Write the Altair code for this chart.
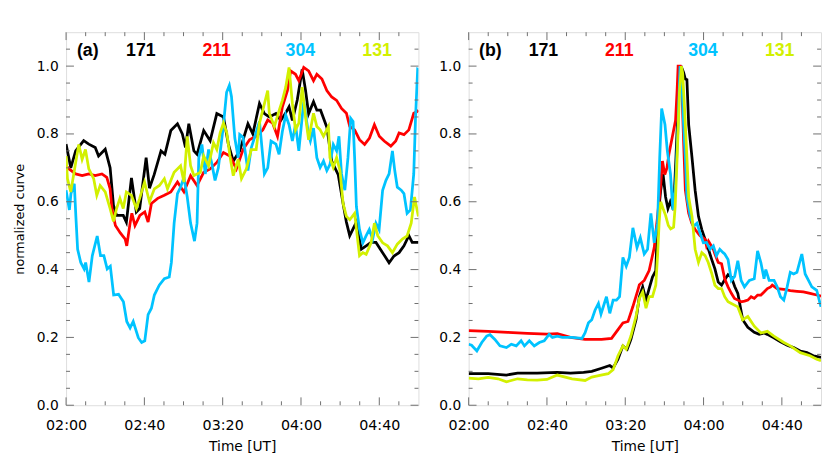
import altair as alt
import pandas as pd

# ---------------- data (time in minutes since 00:00 UT, normalized value) ----------------
a171 = [(120,.77),(122.4,.70),(124.9,.75),(129,.78),(131.6,.77),(134.9,.76),(136.6,.735),(140,.755),
        (142.5,.70),(144.2,.59),(145.8,.56),(149.2,.56),(150.8,.54),(153.4,.67),(155.9,.57),(157.6,.58),
        (160.9,.73),(162.6,.64),(165,.68),(168.5,.75),(170.5,.74),(173.5,.81),(176.9,.83),(179.4,.80),
        (181,.76),(182.7,.83),(185.3,.75),(186.9,.74),(190.3,.81),(193.6,.78),(197,.86),(200.4,.85),
        (202.9,.77),(205.4,.72),(208.7,.75),(212.9,.83),(215.4,.80),(218.8,.89),(221.3,.86),(223.8,.85),
        (227.2,.86),(229.7,.84),(232,.86),(233.9,.88),(235.6,.84),(238.1,.90),(240.6,.99),(242.3,.93),
        (243.9,.86),(246.4,.895),(248.1,.87),(250,.87),(253.2,.82),(255.7,.72),(259,.68),(261.5,.595),
        (263.2,.54),(264.9,.50),(266.6,.52),(268.3,.54),(270.8,.46),(273.3,.47),(275.8,.48),(278.3,.48),
        (281.7,.45),(285,.42),(287.5,.44),(290.1,.45),(292.6,.47),(295.1,.50),(296.8,.48),(300,.48)]

a211 = [(120,.706),(121.5,.697),(124.9,.682),(128.2,.677),(131.6,.682),(134.9,.677),(138.3,.682),
        (140.8,.672),(142.5,.638),(143.5,.576),(145.2,.53),(147.7,.508),(150.2,.49),(151,.47),(152.7,.537),
        (153.6,.566),(155.2,.53),(157.7,.56),(160.2,.57),(161.9,.54),(163.6,.595),(166.8,.61),(170.2,.619),
        (173.5,.629),(176.9,.658),(180.2,.629),(183.6,.677),(186.9,.648),(190.3,.687),(193.6,.697),
        (197,.716),(200.4,.745),(203.7,.735),(207,.697),(210.4,.754),(213.7,.783),(217.1,.793),(220.5,.812),
        (223,.841),(225.5,.832),(228,.793),(230.5,.88),(233.1,.928),(234.7,.986),(237.2,.976),(238.9,.957),
        (241.4,.996),(243.9,.986),(246.4,.957),(248.1,.976),(250.7,.962),(253.2,.928),(255.7,.909),
        (258.2,.899),(260.7,.875),(263.2,.861),(264.9,.822),(267.4,.812),(269.9,.783),(272.5,.769),
        (275,.788),(277.5,.827),(280,.793),(282.5,.779),(285.9,.764),(288.4,.779),(290.1,.803),
        (292.6,.798),(295.1,.812),(297.6,.861),(299.3,.866),(300,.87)]

a304 = [(120,.634),(121.7,.576),(122.5,.624),(124.2,.653),(125,.557),(125.9,.46),(127.5,.421),
        (129.2,.402),(130,.421),(131.7,.363),(133.4,.441),(135.9,.499),(137.6,.441),(139.3,.441),
        (141,.402),(142.6,.41),(144.3,.325),(146.8,.327),(149.3,.305),(151,.247),(152.7,.228),(154.3,.247),
        (156.9,.199),(158.6,.185),(160.2,.19),(161.9,.267),(163.6,.286),(165.1,.325),(167.6,.354),
        (170.2,.373),(172.7,.378),(173.8,.421),(175.2,.537),(176.9,.624),(178.5,.643),(180.2,.672),
        (181.9,.614),(183.6,.537),(185.6,.484),(186.9,.537),(187.8,.73),(189.4,.769),(191.1,.682),
        (192.8,.754),(194.5,.711),(196.1,.663),(197.8,.70),(200.4,.827),(202,.923),(203.4,.943),
        (204.5,.91),(206.2,.788),(207.9,.73),(208.7,.798),(210.4,.79),(212.9,.692),(214.6,.759),
        (216.3,.79),(218.8,.837),(221.3,.682),(223,.70),(224.7,.779),(227.2,.77),(228.8,.74),(230.5,.808),
        (232.2,.856),(233.9,.827),(235.6,.779),(237.2,.827),(238.9,.75),(241.4,.895),(243.9,.798),
        (244.8,.779),(246.4,.817),(248.1,.73),(249.8,.701),(251.5,.72),(253.2,.692),(254.8,.71),
        (256.5,.769),(258.2,.75),(259.4,.793),(260.7,.682),(262.4,.634),(264,.73),(265.4,.846),
        (266.6,.837),(267.4,.73),(268.3,.586),(269.9,.518),(271.6,.479),(273.3,.50),(274.9,.518),
        (276.6,.49),(278.3,.537),(279.9,.518),(281.7,.634),(283.4,.663),(285,.682),(286.7,.75),
        (287.9,.692),(289.2,.643),(291.2,.634),(292.6,.624),(294.2,.566),(295.9,.576),(297.6,.682),
        (298.5,.846),(299.6,.991),(300,.99)]

a131 = [(120,.735),(120.7,.668),(122.4,.629),(124.9,.716),(126.5,.769),(128.2,.725),(129.9,.754),
        (131.6,.697),(134.1,.668),(135.7,.619),(137.4,.648),(140,.629),(142.5,.58),(144.2,.542),
        (145.8,.58),(147.5,.61),(149.2,.58),(150.8,.629),(153.4,.619),(155.9,.58),(157.6,.61),(160.1,.658),
        (162.6,.60),(165.1,.638),(167.7,.648),(170.2,.668),(171.8,.638),(175.2,.687),(178.5,.706),
        (180.2,.658),(181.9,.793),(183.6,.706),(185.3,.677),(188.6,.687),(190.3,.735),(192.8,.706),
        (195.3,.774),(197,.754),(198.7,.803),(200.4,.832),(202.1,.803),(203.7,.735),(205.4,.677),
        (207.9,.725),(209.6,.668),(212.1,.697),(214.6,.754),(217.1,.754),(218.8,.832),(220.5,.87),
        (223,.928),(223.8,.861),(226.4,.822),(228.9,.87),(230.5,.899),(232.2,.938),(233.9,.996),
        (235.6,.89),(237.2,.812),(238.9,.832),(240.6,.938),(242.3,.851),(243.9,.783),(246.4,.861),
        (248.1,.822),(249.8,.812),(251.5,.793),(254,.822),(254.8,.73),(256.5,.701),(258.2,.73),
        (259.9,.692),(261.5,.595),(263.2,.557),(264.9,.547),(267.4,.566),(269.9,.441),(271.6,.45),
        (273.3,.445),(275.8,.479),(277.5,.537),(279.2,.50),(281.7,.479),(284.2,.47),(286.7,.45),
        (289.2,.475),(291.8,.49),(294.2,.499),(296.3,.537),(298,.614),(299.3,.576),(300,.557)]

b171 = [(120,.093),(130,.093),(139.3,.089),(145,.095),(155,.095),(165.3,.097),(172,.095),(178.7,.097),
        (182.9,.10),(187.9,.109),(192.1,.117),(193.8,.11),(196.3,.136),(198.8,.175),(201,.165),
        (202.9,.194),(205.5,.252),(207.2,.32),(208.9,.349),(210.6,.31),(212.2,.344),(213.9,.378),
        (215.6,.397),(216.5,.537),(218.1,.634),(219.3,.682),(220.6,.614),(221.8,.58),(223,.60),
        (224.7,.576),(225.9,.73),(227.3,.923),(228.5,1.0),(229.8,.981),(230.7,.962),(231.5,.96),
        (232.4,.827),(234.1,.73),(235.7,.634),(237.4,.557),(239.1,.518),(240.8,.489),(242.5,.46),
        (244.1,.431),(245.8,.402),(247.5,.363),(249.2,.354),(250.8,.37),(252.5,.385),(254.2,.378),
        (255.9,.35),(257.5,.33),(260,.252),(262.6,.23),(265.9,.215),(268.4,.209),(270.9,.213),
        (272.6,.209),(275.9,.199),(279.3,.187),(282.7,.177),(286,.17),(289.4,.16),(292.8,.155),
        (296.1,.146),(300,.141)]

b211 = [(120,.22),(130,.218),(140,.215),(150,.212),(160,.21),(165.3,.211),(172,.20),(179.5,.194),
        (187.9,.194),(193,.197),(196.3,.223),(198.8,.243),(201.4,.247),(203.9,.291),(206.4,.339),
        (207.2,.355),(209.7,.368),(212.2,.397),(214.8,.465),(216.5,.557),(218.1,.65),(219,.72),
        (220.2,.68),(221.3,.70),(222.3,.74),(224,.79),(225.7,.84),(226.5,.93),(227,1.0),(228.1,1.0),
        (229,.923),(229.8,.779),(230.7,.634),(232.4,.566),(234,.537),(235.7,.518),(238.2,.50),
        (240.8,.489),(241.5,.47),(242.5,.484),(245,.46),(245.8,.446),(247.5,.421),(249.2,.417),
        (250.8,.373),(252.5,.349),(254.2,.33),(255.8,.315),(257.5,.31),(259.2,.305),(260.9,.307),
        (262.6,.31),(264.3,.32),(265.9,.315),(267.6,.325),(269.3,.325),(270.9,.334),(272.6,.344),
        (274.3,.349),(275.1,.354),(277.6,.344),(281,.342),(284.3,.338),(287.7,.336),(291,.334),
        (294.4,.33),(297.8,.325),(300,.322)]

b304 = [(120,.18),(121.5,.177),(124.2,.16),(126.7,.185),(129.2,.204),(130.9,.208),(133.4,.194),
        (136,.175),(139.3,.17),(141.8,.18),(144.3,.175),(146.8,.19),(148.5,.175),(151,.19),(153.5,.175),
        (156.1,.185),(158.6,.19),(161.1,.209),(162.8,.2),(165.3,.204),(167.8,.2),(172.8,.2),(177.9,.197),
        (179.5,.214),(181.2,.243),(182.9,.252),(184.6,.281),(186.3,.3),(187.6,.269),(189.3,.3),
        (190.4,.32),(192.1,.271),(193.8,.31),(195.5,.31),(197.1,.32),(198.8,.436),(200.5,.41),
        (202.1,.436),(203.9,.523),(206,.465),(207.7,.494),(209.7,.446),(211.4,.46),(213.1,.566),
        (214.8,.479),(216.5,.537),(217.6,.73),(218.6,.875),(220.3,.827),(221.5,.75),(223.1,.682),
        (224.3,.576),(225.7,.653),(227,.827),(228,1.0),(229,.942),(229.8,.827),(230.7,.73),(231.5,.614),
        (233.2,.557),(234.9,.528),(236.6,.537),(238.2,.508),(239.9,.479),(241.5,.48),(243.3,.46),
        (245,.47),(246.6,.441),(248.3,.46),(250,.45),(250.8,.446),(252.5,.43),(254.2,.368),(255.9,.38),
        (257.5,.426),(259.2,.368),(260.9,.349),(263.4,.368),(265.9,.373),(267.6,.455),(269.3,.42),
        (270.9,.373),(271.8,.4),(273.5,.368),(276,.368),(277.6,.349),(279.3,.32),(281,.31),(282.7,.349),
        (284.3,.392),(286,.387),(287.7,.392),(290.2,.446),(291.9,.387),(293.6,.368),(295.3,.349),
        (297.8,.339),(299.5,.3),(300,.29)]

b131 = [(120,.08),(125,.078),(130,.082),(135,.078),(139.3,.069),(145,.078),(150,.075),(155,.074),
        (160,.076),(165.3,.089),(172.8,.078),(179.5,.073),(182.9,.083),(187,.088),(191.3,.093),
        (193.8,.105),(196.3,.146),(198.8,.175),(200.5,.165),(202.9,.204),(205.5,.262),(207.2,.315),
        (208.9,.334),(210.6,.286),(212.2,.32),(213.9,.32),(215.6,.354),(216.5,.441),(217.3,.537),
        (218.1,.60),(219.3,.58),(220.6,.56),(222,.53),(223.2,.52),(224.7,.525),(225.5,.586),(226.5,.73),
        (227.7,.923),(228.7,1.0),(229.3,.98),(230.3,.875),(231.5,.73),(232.4,.614),(234.1,.557),
        (235.7,.46),(237.4,.421),(239.1,.45),(240.8,.441),(242.4,.421),(244.1,.39),(245.8,.354),
        (247.5,.344),(249.2,.344),(250.8,.32),(252.5,.305),(254.2,.30),(257.5,.29),(260,.252),
        (262.6,.262),(265.9,.233),(269.3,.213),(272.6,.218),(275.9,.204),(281,.185),(284.3,.175),
        (289.4,.155),(294.4,.146),(297.8,.136),(300,.131)]

channels = ["171", "211", "304", "131"]
colors = ["#000000", "#ff0000", "#00c3ff", "#d2f000"]

y_major = [0.0, 0.2, 0.4, 0.6, 0.8, 1.0]
y_minor = [0.05, 0.1, 0.15, 0.25, 0.3, 0.35, 0.45, 0.5, 0.55, 0.65, 0.7, 0.75, 0.85, 0.9, 0.95, 1.05]
x_major = [120, 160, 200, 240, 280]
x_minor = [130, 140, 150, 170, 180, 190, 210, 220, 230, 250, 260, 270, 290]

# ---------------- layout / style ----------------
W, H = 358, 379
FRAME = "#6e6e6e"
FONT = "DejaVu Sans"
xscale = alt.Scale(domain=[120, 300], nice=False, zero=False)
yscale = alt.Scale(domain=[0, 1.1], nice=False, zero=False)
label_expr = ("(floor(datum.value/60) < 10 ? '0' : '') + floor(datum.value/60) + ':' + "
              "(datum.value % 60 < 10 ? '0' : '') + (datum.value % 60)")
label_x = [22, 76, 153, 238, 316]

xaxis = alt.Axis(values=x_major, labelExpr=label_expr, ticks=False, domain=False,
                 grid=False, labelFont=FONT, labelFontSize=14.5, labelPadding=14, labelFlush=False,
                 labelColor="#000", title="Time [UT]", titleFont=FONT,
                 titleFontSize=14, titleFontWeight="normal", titlePadding=7,
                 titleColor="#000")


def yaxis(show_title):
    kw = dict(values=y_major, format=".1f", ticks=False, domain=False, grid=False,
              labelFont=FONT, labelFontSize=14, labelPadding=8, labelColor="#000", labelFlush=False)
    if show_title:
        kw.update(title="normalized curve", titleFont=FONT, titleFontSize=13,
                  titleFontWeight="normal", titlePadding=10, titleColor="#000")
    else:
        kw.update(title="")
    return alt.Axis(**kw)


def panel(series, tag, show_title):
    ya = yaxis(show_title)
    X = lambda f: alt.X(f, scale=xscale, axis=xaxis)
    Y = lambda f: alt.Y(f, scale=yscale, axis=ya)
    layers = []
    for pts, col in zip(series, colors):
        df = pd.DataFrame(pts, columns=["t", "v"])
        layers.append(alt.Chart(df).mark_line(color=col, strokeWidth=2.8, clip=True)
                      .encode(x=X("t:Q"), y=Y("v:Q")))

    # inward ticks on all four sides
    for vals, ln in ((y_major, 8), (y_minor, 4)):
        base = alt.Chart(pd.DataFrame({"v": vals})).mark_rule(color=FRAME, strokeWidth=1)
        layers.append(base.encode(y=Y("v:Q"), x=alt.value(0), x2=alt.value(ln)))
        layers.append(base.encode(y=Y("v:Q"), x=alt.value(W - ln), x2=alt.value(W)))
    for vals, ln in ((x_major, 8), (x_minor, 4)):
        base = alt.Chart(pd.DataFrame({"t": vals})).mark_rule(color=FRAME, strokeWidth=1)
        layers.append(base.encode(x=X("t:Q"), y=alt.value(H), y2=alt.value(H - ln)))
        layers.append(base.encode(x=X("t:Q"), y=alt.value(0), y2=alt.value(ln)))

    # in-plot labels
    texts = [tag] + channels
    tcols = ["#000000"] + colors
    for txt, col, px in zip(texts, tcols, label_x):
        layers.append(
            alt.Chart(pd.DataFrame({"s": [txt]})).mark_text(
                font="Liberation Sans", fontSize=18, fontWeight="bold", color=col,
                align="center", baseline="middle"
            ).encode(text="s:N", x=alt.value(px), y=alt.value(19))
        )
    return alt.layer(*layers).properties(width=W, height=H)


left = panel([a171, a211, a304, a131], "(a)", True)
right = panel([b171, b211, b304, b131], "(b)", False)

chart = alt.hconcat(left, right, spacing=19).properties(
    padding={"top": 20, "left": 5, "right": 0, "bottom": 0}
).configure_view(stroke=FRAME, strokeWidth=1.2).configure(background="white")

chart.save("out.html", embed_options={"renderer": "svg", "actions": False})
